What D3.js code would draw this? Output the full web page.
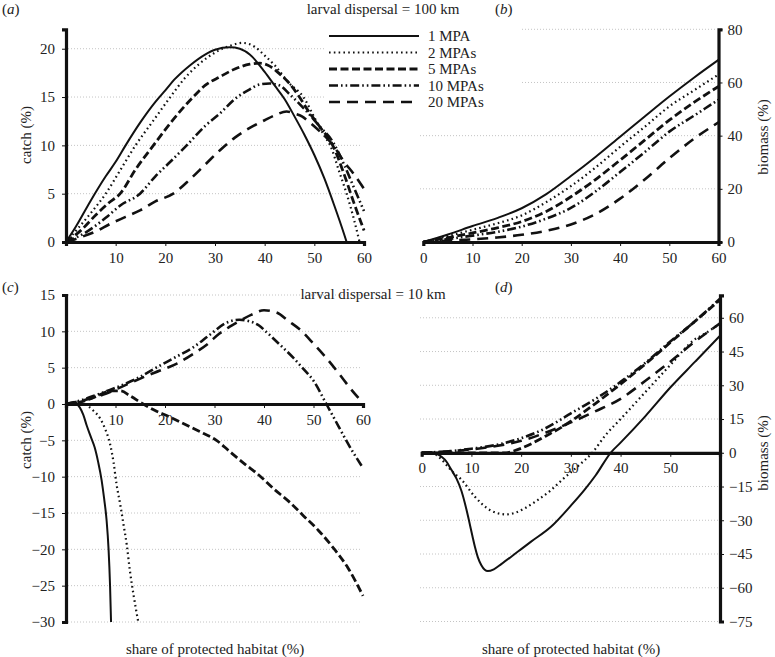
<!DOCTYPE html>
<html>
<head>
<meta charset="utf-8">
<script src="https://cdn.jsdelivr.net/npm/d3@7"></script>
<style>
html,body{margin:0;padding:0;background:#fff;}
svg{display:block;font-family:"Liberation Serif","DejaVu Serif",serif;}
svg text{font-family:"Liberation Serif","DejaVu Serif",serif;}
</style>
</head>
<body>
<svg id="chart" width="775" height="657"></svg>
<script>
// ---------- data ----------
const seriesNames = ["1 MPA", "2 MPAs", "5 MPAs", "10 MPAs", "20 MPAs"];

// (a) catch, larval dispersal = 100 km
const catchA_1 = [[0,0],[2,1.6],[5,4.3],[8,6.8],[10,8.3],[12,10],[15,12.4],[18,14.5],[20,15.7],[22,16.9],[25,18.3],[28,19.4],[30,19.9],[33,20.15],[35,20.0],[37,19.4],[40,17.6],[42,16.2],[44,14.8],[46,13.0],[48,11.1],[50,9.0],[52,6.6],[54,3.8],[56,0.8],[56.5,0]];
const catchA_2 = [[0,0],[5,3.0],[8,5],[11,7.5],[14,10],[17.5,12.5],[21,15],[24,17],[27,18.5],[30,19.6],[33,20.3],[35.5,20.6],[38,20.2],[40,19.3],[42,18.3],[45,16.4],[47.8,15],[50,12.9],[52,11.0],[53.2,10],[55,7.3],[56.5,5],[58,2.3],[59.1,0]];
const catchA_5 = [[0,0],[3,1.2],[6,2.8],[8.5,4],[10.9,5],[14,7.5],[17.6,10],[21,12.3],[25.6,15],[28,16.2],[31,17.1],[34,17.9],[37,18.4],[39,18.5],[41,18.2],[43,17.4],[45,16.4],[47,15.0],[49,13.4],[51,12],[53.8,9.9],[56,7],[58,4],[60,1.2]];
const catchA_10 = [[0,0],[4,1.0],[8,2.5],[11,3.8],[14.9,5],[18,6.8],[21,8.3],[24.3,10],[28,12],[31,13.3],[34,14.8],[37,15.8],[39,16.3],[41,16.4],[43,16.2],[45,15.3],[47,14.3],[49,13.2],[51,12],[53.8,10.3],[56,8],[58,5.6],[60,3.2]];
const catchA_20 = [[0,0],[3,0.5],[6,1.1],[9,1.9],[12,2.6],[15,3.3],[18,4.2],[21.6,5],[25,6.5],[28,8],[31,9.5],[34,10.8],[37,11.8],[40,12.6],[42,13.1],[44.4,13.5],[46,13.3],[47.5,13],[49,12.4],[51,11.5],[53.8,10],[56,8.3],[58,7],[60,5.5]];

// (b) biomass, larval dispersal = 100 km
const bioB_1 = [[0,0],[5,2.8],[10,6],[15,9],[20,12.7],[25,18],[30,24.8],[35,32],[40,39.6],[45,47.2],[50,54.7],[55,61.8],[60,68.5]];
const bioB_2 = [[0,0],[5,2.2],[10,4.6],[15,7],[20,10],[25,15],[30,21],[35,28],[40,35.8],[45,43.3],[50,51],[55,57],[60,63]];
const bioB_5 = [[0,0],[5,1.6],[10,3.4],[15,5.3],[20,7.7],[25,11.5],[30,17],[35,23.5],[40,30.8],[45,38.3],[50,45.8],[55,52.5],[60,58.5]];
const bioB_10 = [[0,0],[5,1.1],[10,2.4],[15,3.8],[20,5.8],[25,8.8],[30,12.8],[35,19],[40,26.3],[45,33.8],[50,41.5],[55,47.5],[60,53.5]];
const bioB_20 = [[0,0],[5,0.5],[10,1.0],[15,1.7],[20,2.7],[25,4.2],[30,6.6],[35,10.5],[40,16.3],[45,23.5],[50,31.5],[55,38.8],[60,45]];

// (c) catch, larval dispersal = 10 km
const catchC_1 = [[0,0],[2,0],[2.8,-0.5],[3.5,-1.5],[4.2,-3],[5,-4.5],[5.8,-6],[6.5,-8],[7.2,-10.5],[7.7,-13],[8.2,-16],[8.6,-20],[8.9,-25],[9.1,-30]];
const catchC_2 = [[0,0],[3,0.1],[4.5,-0.3],[5.5,-0.9],[6.9,-2],[8,-3.6],[8.9,-5.5],[9.6,-8],[10.2,-11],[11,-14],[11.6,-16.5],[12.3,-19.5],[12.9,-22.9],[13.7,-26.5],[14.6,-30]];
const catchC_5 = [[0,0],[3,0.3],[6,1.0],[9,1.8],[11,1.8],[13,1.1],[15.6,0],[18,-0.9],[21,-1.8],[24,-2.8],[27,-3.8],[30.4,-5],[33,-6.5],[36,-8.2],[39,-9.8],[42,-11.7],[45,-13.4],[48,-15.4],[51,-17.4],[54,-19.8],[57,-22.6],[60,-26.4]];
const catchC_10 = [[0,0],[3,0.5],[5.5,1.1],[9.5,2.1],[14,3.4],[19,5.3],[22,6.4],[25.7,7.8],[29,9.5],[32.5,11.2],[35,11.6],[37,11.4],[39,10.8],[40.5,9.9],[43,8.3],[46,6.3],[48,4.8],[50,3.2],[52.6,0],[55,-3],[57,-5.5],[60,-8.8]];
const catchC_20 = [[0,0],[4,0.6],[8,1.4],[12,2.6],[16,3.8],[19,4.6],[22.5,5.6],[25.7,6.9],[28.5,8.2],[31,9.7],[33,10.6],[35,11.4],[37.5,12.3],[40,12.9],[42.5,12.6],[45,11.4],[47.5,10.1],[50,8.3],[52.5,6.4],[55,4.3],[57.5,2.1],[59.5,0.5]];

// (d) biomass, larval dispersal = 10 km
const bioD_1 = [[0,0],[2,0],[3,-0.5],[4,-1.8],[5,-4],[6,-7.7],[7,-11.5],[8,-17],[8.7,-22.5],[9.5,-30],[10.2,-37],[10.7,-41.8],[11.3,-46.5],[12,-50],[13.3,-52.6],[14.5,-51.8],[16,-49.5],[19.3,-44],[22,-39.5],[26,-32.9],[30,-23.5],[32.7,-16.6],[35,-10],[38,0],[40,4.5],[45,16.3],[50,29],[55,40.5],[60,52]];
const bioD_2 = [[0,0],[2,0],[3,-1],[4,-3],[4.7,-4.7],[6,-8],[8,-12],[10.7,-19.5],[12,-22.5],[14,-25.8],[17,-27.4],[19,-26.5],[20.7,-24.7],[23,-21.5],[26,-16.6],[28.5,-11.5],[31.3,-6.2],[34.3,0],[37,7.9],[40,15],[45,27],[50,39],[55,50.5],[57,53],[60,57.5]];
const bioD_5 = [[0,0],[10,0],[17,0],[18.5,0.8],[20,2],[22.5,4.5],[25,7.5],[27.5,10.5],[30,14],[35,22],[40,30.5],[45,39.5],[50,49],[55,58.5],[60,68]];
const bioD_10 = [[0,0],[5,0.6],[10,1.8],[15,3.5],[20,6.5],[25,11],[30,17.5],[35,24],[40,31.5],[45,40],[50,49.5],[55,58.5],[60,68.5]];
const bioD_20 = [[0,0],[5,0.6],[10,1.5],[15,3],[20,5.3],[25,9],[30,13.5],[35,18.5],[40,24],[45,32],[50,40.5],[55,49.5],[60,57.5]];

// tick values
const ticksA_x = [10,20,30,40,50,60];
const ticksA_y = [0,5,10,15,20];
const ticksB_x = [0,10,20,30,40,50,60];
const ticksB_y = [0,20,40,60,80];
const ticksC_x = [10,20,30,40,50,60];
const ticksC_y = [-30,-25,-20,-15,-10,-5,0,5,10,15];
const ticksD_x = [0,10,20,30,40,50];
const ticksD_y = [-75,-60,-45,-30,-15,0,15,30,45,60];

// ---------- styles ----------
const styles = [
  {dash: null, w: 2},
  {dash: "1.6,3.2", w: 2.2},
  {dash: "8,3.5", w: 2.8},
  {dash: "9,3,1.6,3,1.6,3", w: 2.6},
  {dash: "11,7", w: 2.6}
];

const svg = d3.select("#chart");
const FONT = 15;
const FAMILY = "Liberation Serif";

function panel(opts) {
  const g = svg.append("g");
  const x = d3.scaleLinear().domain([0, 60]).range(opts.xr);
  const y = d3.scaleLinear().domain(opts.yd).range(opts.yr);
  const gridX0 = opts.gridX0 !== undefined ? opts.gridX0 : opts.xr[0];
  const gridX1 = opts.gridX1 !== undefined ? opts.gridX1 : opts.xr[1];
  // grid
  g.append("g").selectAll("line").data(opts.yt.filter(v => v !== 0)).join("line")
    .attr("x1", gridX0).attr("x2", gridX1)
    .attr("y1", d => y(d)).attr("y2", d => y(d))
    .attr("stroke", "#b5b5b5").attr("stroke-width", 0.8)
    .attr("stroke-dasharray", "1,2");
  // lines
  const line = d3.line().x(d => x(d[0])).y(d => y(d[1])).curve(d3.curveMonotoneX);
  opts.series.forEach((s, i) => {
    g.append("path").attr("d", line(s)).attr("fill", "none")
      .attr("stroke", "#111").attr("stroke-width", styles[i].w)
      .attr("stroke-dasharray", styles[i].dash)
      .attr("stroke-linejoin", "round");
  });
  // x axis at y=0
  const xa = d3.axisBottom(x).tickValues(opts.xt).tickSize(4).tickPadding(6).tickFormat(d3.format("d"));
  const gx = g.append("g").attr("transform", `translate(0,${y(0)})`).call(xa);
  // y axis
  let ya;
  if (opts.right) ya = d3.axisRight(y).tickValues(opts.yt).tickSize(4).tickPadding(5);
  else ya = d3.axisLeft(y).tickValues(opts.yt).tickSize(4).tickPadding(7);
  ya.tickFormat(d => d < 0 ? "\u2212" + Math.abs(d) : String(d));
  const gy = g.append("g").attr("transform", `translate(${opts.right ? opts.xr[1] : opts.xr[0]},0)`).call(ya);
  [gx, gy].forEach(ax => {
    ax.attr("font-family", FAMILY).attr("font-size", FONT);
    ax.select(".domain").attr("stroke", "#111").attr("stroke-width", 3.2);
    ax.selectAll(".tick line").attr("stroke", "#111").attr("stroke-width", 1);
    ax.selectAll(".tick text").attr("font-size", FONT).attr("fill", "#222")
      .attr("font-family", FAMILY);
  });
  return {g, x, y};
}

// (a)
panel({xr: [66, 364], yd: [0, 22], yr: [242, 29.4], xt: ticksA_x, yt: ticksA_y,
  series: [catchA_1, catchA_2, catchA_5, catchA_10, catchA_20], gridX0: 68, gridX1: 362});
// (b)
panel({xr: [423.3, 718.5], yd: [0, 80], yr: [242, 29.3], xt: ticksB_x, yt: ticksB_y, right: true,
  series: [bioB_1, bioB_2, bioB_5, bioB_10, bioB_20], gridX0: 420, gridX1: 716});
// (c)
panel({xr: [66, 363], yd: [-30, 15], yr: [622, 295], xt: ticksC_x, yt: ticksC_y,
  series: [catchC_1, catchC_2, catchC_5, catchC_10, catchC_20], gridX0: 68, gridX1: 362});
// (d)
panel({xr: [421.7, 720], yd: [-75, 70], yr: [621.5, 295.3], xt: ticksD_x, yt: ticksD_y, right: true,
  series: [bioD_1, bioD_2, bioD_5, bioD_10, bioD_20], gridX0: 420, gridX1: 718});

// legend (white box covering grid)
const lg = svg.append("g");
lg.append("rect").attr("x", 326).attr("y", 24).attr("width", 196).attr("height", 88).attr("fill", "#fff");
seriesNames.forEach((n, i) => {
  const yy = 36 + i * 16.5;
  lg.append("line").attr("x1", 329).attr("x2", 419).attr("y1", yy).attr("y2", yy)
    .attr("stroke", "#111").attr("stroke-width", styles[i].w)
    .attr("stroke-dasharray", styles[i].dash);
  lg.append("text").attr("x", 428).attr("y", yy + 5).attr("font-size", FONT)
    .attr("font-family", FAMILY).attr("fill", "#222").text(n);
});

// texts
function txt(x, y, s, anchor, rot) {
  const t = svg.append("text").attr("font-size", FONT).attr("fill", "#222")
    .attr("font-family", FAMILY).attr("text-anchor", anchor || "start");
  if (rot) t.attr("transform", `translate(${x},${y}) rotate(${rot})`);
  else t.attr("x", x).attr("y", y);
  t.text(s);
  return t;
}
function panelLabel(x, y, letter) {
  const t = svg.append("text").attr("x", x).attr("y", y).attr("font-size", FONT)
    .attr("font-family", FAMILY).attr("fill", "#222");
  t.append("tspan").text("(");
  t.append("tspan").attr("font-style", "italic").text(letter);
  t.append("tspan").text(")");
}
panelLabel(2, 14, "a");
panelLabel(495, 14, "b");
panelLabel(2, 292, "c");
panelLabel(495, 292, "d");
txt(383, 14, "larval dispersal = 100 km", "middle");
txt(373, 299, "larval dispersal = 10 km", "middle");
txt(31, 135, "catch (%)", "middle", -90);
txt(31, 440, "catch (%)", "middle", -90);
txt(768, 137, "biomass (%)", "middle", -90);
txt(768, 453, "biomass (%)", "middle", -90);
txt(215, 654, "share of protected habitat (%)", "middle");
txt(571, 654, "share of protected habitat (%)", "middle");
</script>
</body>
</html>
